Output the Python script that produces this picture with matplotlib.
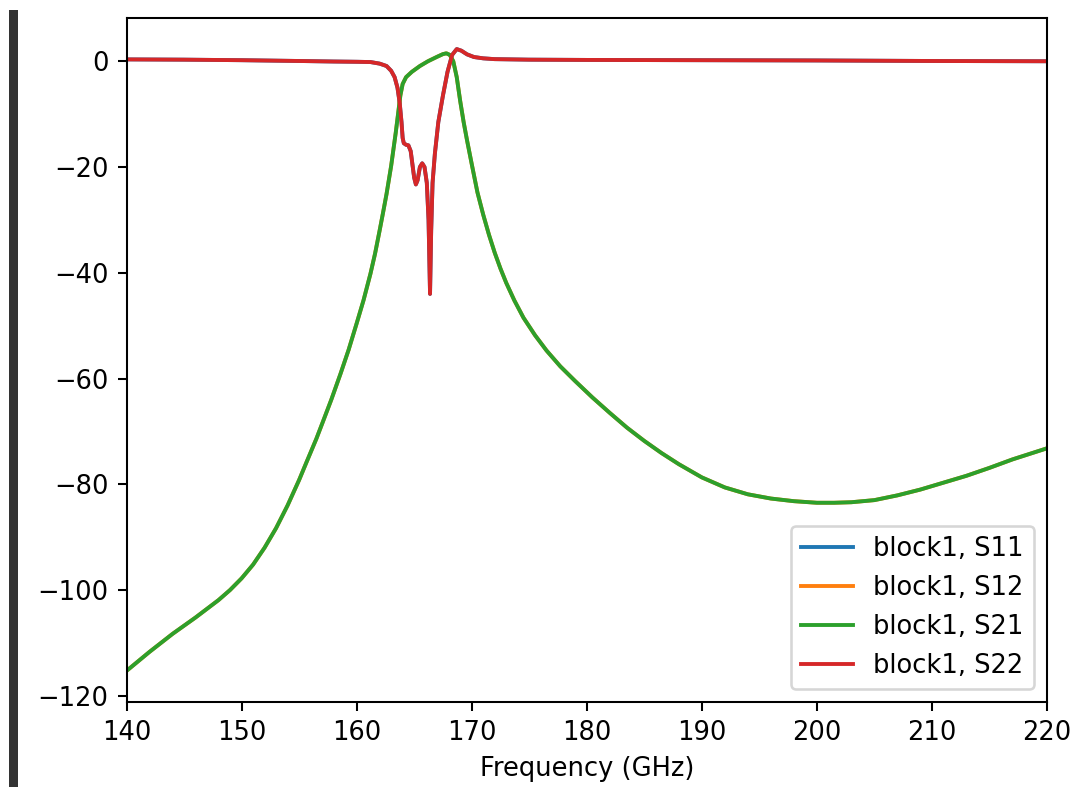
import matplotlib
matplotlib.use("Agg")
import matplotlib.pyplot as plt
from matplotlib.patches import Rectangle

# Two-port S-parameters of block1 (magnitude in dB)
freq_s21 = [140, 142, 144, 146, 148, 149, 150, 151, 152, 153, 154, 155, 155.65,
            156.5, 157.1, 157.8, 158.6, 159.3, 160.0, 160.6, 161.2, 161.6, 162.0,
            162.3, 162.6, 163.0, 163.4, 163.8, 164.0, 164.3, 164.8, 165.5, 166.2,
            167.0, 167.5, 167.8, 168.1, 168.4, 168.7, 169.0, 169.3, 169.6, 170.0,
            170.5, 171.0, 171.5, 172.0, 172.5, 173.0, 173.7, 174.5, 175.5, 176.5,
            177.7, 179.0, 180.5, 182.0, 183.5, 185.0, 186.5, 188.0, 190.0, 192.0,
            194.0, 196.0, 198.0, 200.0, 201.5, 203.0, 205.0, 207.0, 209.0, 211.0,
            213.0, 215.0, 217.0, 219.0, 220.0]
s21_db = [-115.3, -111.7, -108.3, -105.2, -101.9, -100.0, -97.8, -95.2, -92.0, -88.3,
          -84.0, -79.2, -75.8, -71.4, -68.0, -64.0, -59.1, -54.6, -49.6, -45.2,
          -40.2, -36.4, -32.0, -28.6, -25.1, -19.8, -13.5, -6.5, -4.3, -3.0,
          -2.0, -0.9, 0.0, 0.85, 1.35, 1.5, 1.2, 0.0, -3.0, -7.5,
          -11.5, -15.0, -19.4, -24.8, -29.0, -32.8, -36.2, -39.2, -41.9, -45.2,
          -48.5, -51.8, -54.7, -57.7, -60.5, -63.6, -66.5, -69.3, -71.8, -74.1,
          -76.2, -78.7, -80.6, -81.9, -82.7, -83.2, -83.5, -83.5, -83.4, -83.0,
          -82.1, -81.0, -79.7, -78.4, -76.9, -75.3, -73.9, -73.2]

freq_s22 = [140, 145, 150, 155, 158, 160, 161.2, 162.0, 162.6, 163.0, 163.3,
            163.55, 163.75, 163.9, 164.0, 164.1, 164.3, 164.5, 164.7, 164.85,
            165.0, 165.15, 165.3, 165.5, 165.7, 165.9, 166.1, 166.25, 166.38,
            166.48, 166.6, 166.8, 167.1, 167.5, 167.9, 168.3, 168.7, 169.1,
            169.6, 170.2, 171.0, 172.0, 175.0, 180.0, 190.0, 200.0, 210.0, 220.0]
s22_db = [0.35, 0.3, 0.2, 0.05, -0.05, -0.1, -0.15, -0.45, -0.9, -1.8, -3.0,
          -5.0, -8.0, -11.5, -14.5, -15.5, -15.8, -15.9, -17.0, -19.5,
          -22.0, -23.3, -22.5, -20.0, -19.3, -20.0, -23.0, -30.0, -44.0,
          -32.0, -23.0, -17.5, -11.5, -6.5, -2.0, 1.2, 2.3, 2.0,
          1.3, 0.8, 0.55, 0.4, 0.3, 0.25, 0.2, 0.15, 0.05, 0.0]

# Reciprocal, symmetric block: S12 = S21, S11 = S22
traces = [
    ("block1, S11", freq_s22, s22_db),
    ("block1, S12", freq_s21, s21_db),
    ("block1, S21", freq_s21, s21_db),
    ("block1, S22", freq_s22, s22_db),
]

dpi = 185.5
fig = plt.figure(figsize=(1081 / dpi, 787 / dpi), dpi=dpi)
ax = fig.add_axes([126.5 / 1081, 1 - 702 / 787, (1047 - 126.5) / 1081, (702 - 18) / 787])

for label, f, s in traces:
    ax.plot(f, s, label=label)

ax.set_xlim(140, 220)
ax.set_xlabel("Frequency (GHz)")
ax.legend(loc="lower right")

# notebook cell marker bar on the left edge
fig.patches.append(Rectangle((9 / 1081, 0), 9 / 1081, 1 - 10 / 787,
                             transform=fig.transFigure, facecolor="#333333",
                             edgecolor="none", zorder=-1))

fig.savefig("out.png", dpi=dpi)
